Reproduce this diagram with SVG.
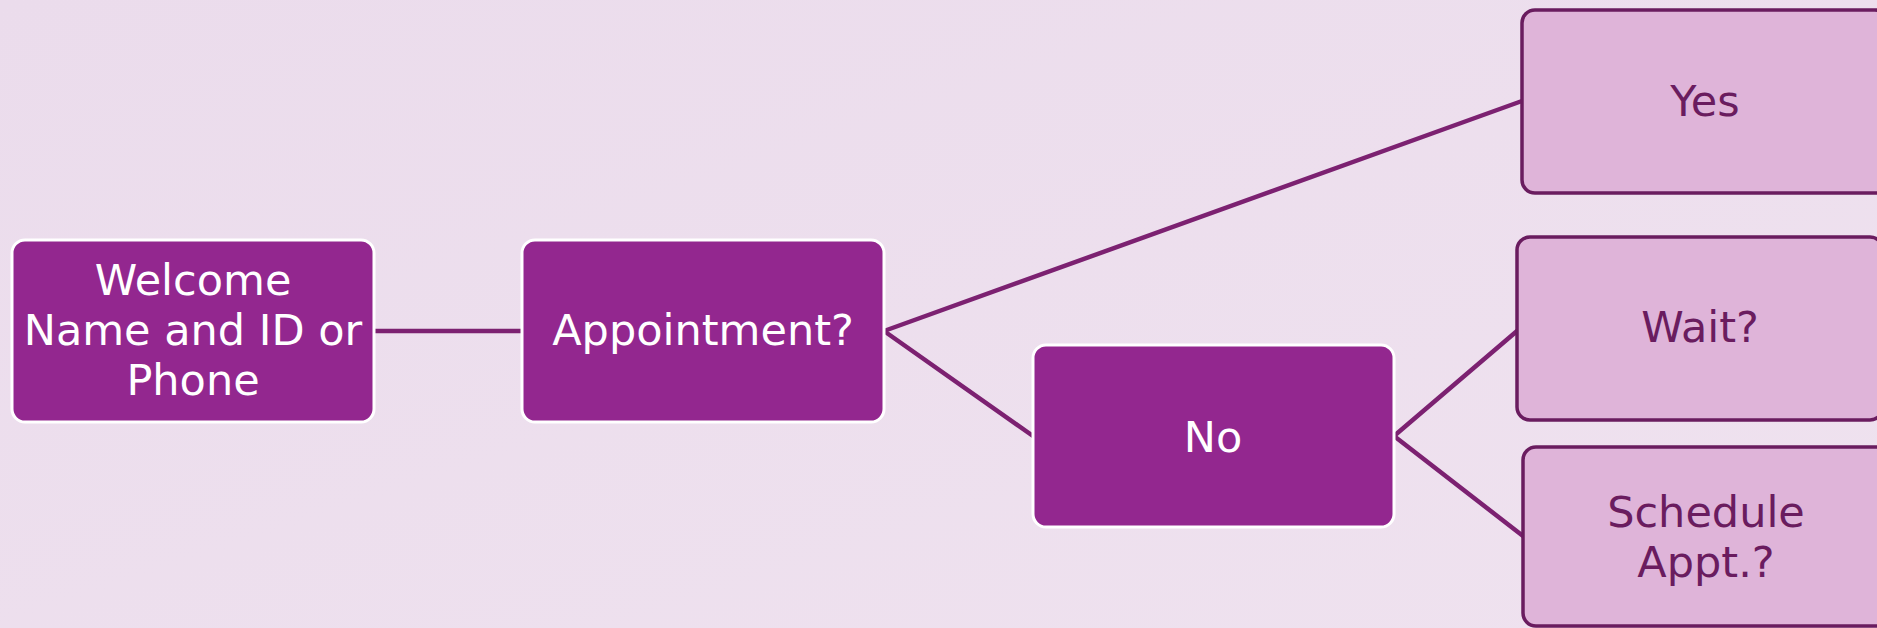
<svg xmlns="http://www.w3.org/2000/svg" width="1877" height="628" viewBox="0 0 1877 628">
<defs>
<style>
.dark rect{fill:#93278f;stroke:#ffffff;stroke-width:3}
.light rect{fill:#dfb4d9;stroke:#6a1c5f;stroke-width:3.5}
.dark text{fill:#ffffff}
.light text{fill:#6a1c5f}
text{font-family:"DejaVu Sans","Open Sans",sans-serif;font-size:43px;text-anchor:middle}
#connectors line{stroke:#7c2171;stroke-width:4.5;stroke-linecap:round}
</style>
<linearGradient id="bg" x1="0" y1="0" x2="1" y2="1">
<stop offset="0" stop-color="#ebdcec"/>
<stop offset="1" stop-color="#efe2ef"/>
</linearGradient>
</defs>
<rect x="0" y="0" width="1877" height="628" fill="url(#bg)"/>
<g id="connectors">
<line x1="374" y1="331" x2="522" y2="331"/>
<line x1="884" y1="331" x2="1522" y2="101"/>
<line x1="884" y1="331" x2="1033" y2="436"/>
<line x1="1394" y1="436" x2="1517" y2="331"/>
<line x1="1394" y1="436" x2="1523" y2="536"/>
</g>
<g id="welcome" class="dark">
<rect x="12" y="240" width="362" height="182" rx="13"/>
<text x="193" y="295">Welcome</text>
<text x="193" y="345">Name and ID or</text>
<text x="193" y="395">Phone</text>
</g>
<g id="appointment" class="dark">
<rect x="522" y="240" width="362" height="182" rx="13"/>
<text x="703" y="345">Appointment?</text>
</g>
<g id="no" class="dark">
<rect x="1033" y="345" width="361" height="182" rx="13"/>
<text x="1213" y="452">No</text>
</g>
<g id="yes" class="light">
<rect x="1522" y="10" width="366" height="183" rx="13"/>
<text x="1705" y="116">Yes</text>
</g>
<g id="wait" class="light">
<rect x="1517" y="237" width="366" height="183" rx="13"/>
<text x="1700" y="342">Wait?</text>
</g>
<g id="schedule" class="light">
<rect x="1523" y="447" width="366" height="179" rx="13"/>
<text x="1706" y="527">Schedule</text>
<text x="1706" y="577">Appt.?</text>
</g>
</svg>
